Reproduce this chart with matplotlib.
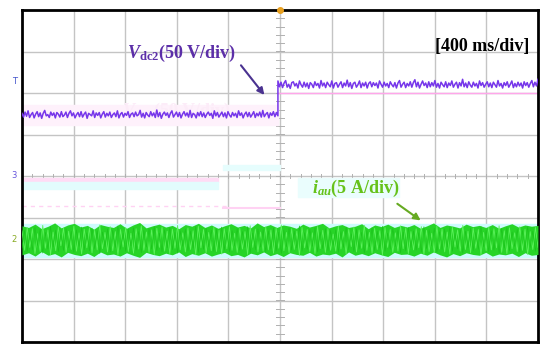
import matplotlib.pyplot as plt
import numpy as np

plt.rcParams['mathtext.fontset'] = 'custom'
plt.rcParams['mathtext.it'] = 'Liberation Serif:italic:bold'
plt.rcParams['mathtext.rm'] = 'Liberation Serif:bold'
plt.rcParams['mathtext.bf'] = 'Liberation Serif:bold'

# poziomy sygnalow (w dzialkach)
vdc2_przed = 1.47
vdc2_po = 2.19
t_skok = 4.96
iau_srodek = -1.54

szum_vdc2_a = [4, -5, 7, -3, 10, -6, 1, 6, -7, 2, 8, -4, 5, -8, 4, 11, -2, 1, -6, 7,
               -1, 5, -7, 6, 2, -5, 8, -4, 0, 7, -6, 4, 10, -2, 5, -7, 1, 6, -4, 8,
               -5, 2, 7, -8, 4, 1, -2, 10, -6, 5, -1, 6, -7, 2, 8, -5, 4, -2, 7, -6,
               1, 5, -4, 10, -7, 2, 6, -5, 4, -1, 8, -6, 2, 5, -4, 7, -2, 1, 11, -5,
               4, -7, 6, 0, -4, 8, -2, 5, -6, 12, -4, 6, -8, 2, 7, -1, 5, -6, 4, 10,
               -5, 1, 7, -4, 6, -7, 2, 8, -2, 5, -5, 11, -6, 4, 1, -7, 6, -2, 8, -4,
               5, -6, 2, 7, -1, 4, -8, 10, -2, 6, -5, 1, 7, -4, 5, -7, 8, 0, -5, 6,
               -2, 4, -6, 10, -1, 5, -7, 2, 7, -4, 6, -5, 1, 8, -6, 4, -2, 7, -5, 11,
               -4, 2, 6, -7, 5, -1, 8, -4, 6, -2]
szum_vdc2_b = [10, -4, 7, -6, 5, 11, -5, 2, -8, 6, 8, -2, 4, -7, 10, 1, -5, 7, -4, 5,
               -8, 6, 2, -6, 8, -1, 4, -7, 11, -2, 5, -6, 7, 1, -4, 10, -7, 4, 6, -5,
               2, 8, -6, 5, -2, 12, -4, 6, -8, 4, 7, -5, 1, 10, -6, 5, -2, 7, -7, 4,
               8, -4, 6, -1, 5, -7, 10, 2, -5, 7, -2, 4, -6, 8, 1, -4, 6, -7, 5, 11,
               -5, 2, 7, -6, 4, -2, 8, -5, 6, 13, -4, 7, -7, 2, 10, -1, 5, -6, 8, -4,
               6, -2, 11, -5, 4, -7, 7, 1, -4, 8, -6, 5, -1, 10, -5, 2, 7, -7, 6, -2,
               14, -4, 5, -6, 8, 0, -5, 7, -2, 4, -7, 10, -1, 6, -5, 2, 8, -4, 5, -6,
               7, 1, -5, 11, -2, 4, -7, 6, -1, 8, -5, 2, 10, -6, 4, -4, 7, -2, 5, -7,
               8, -1, 6, -5, 4, 11, -4, 7, -2, 14]
iau_gora = [34, 30, 38, 27, 33, 41, 29, 36, 40, 31, 35, 26, 37, 33, 30, 39, 28, 36, 42, 29,
            34, 38, 31, 35, 27, 37, 33, 40, 30, 36, 28, 34, 39, 31, 35, 29, 41, 32, 37, 30,
            36, 33, 28, 38, 31, 35, 40, 29, 34, 37, 30, 33, 39, 27, 36, 32, 38, 30, 35, 31,
            37, 28, 34, 41, 30, 36, 33, 29, 38, 32, 35, 30, 37, 28, 34, 39, 31, 36, 33, 35]
iau_dol = [-36, -31, -39, -28, -37, -33, -41, -30, -35, -38, -32, -40, -29, -36, -34, -39, -31, -37, -42, -30,
           -35, -38, -32, -36, -29, -40, -33, -37, -31, -39, -34, -30, -38, -35, -41, -32, -36, -29, -38, -33,
           -40, -31, -35, -37, -30, -39, -34, -36, -32, -41, -29, -37, -33, -38, -31, -36, -40, -30, -35, -34,
           -39, -32, -37, -29, -36, -41, -33, -38, -31, -35, -37, -30, -39, -34, -36, -32, -40, -31, -37, -35]
szum_iau = [22, -25, 30, -18, 27, -33, 15, -28, 35, -20, 24, -36, 19, -26, 31, -14, 28, -30, 21, -23,
            33, -27, 17, -34, 26, -19, 29, -31, 23, -24, 36, -21, 18, -29, 32, -26, 20, -37, 25, -17,
            30, -28, 16, -32, 27, -22, 34, -25, 19, -30, 24, -35, 28, -18, 31, -27, 21, -33, 26, -20,
            35, -24, 17, -29, 29, -23, 22, -36, 33, -19, 25, -31, 18, -26, 30, -28, 23, -34, 27, -21,
            32, -25, 16, -30, 28, -22, 20, -35, 34, -18, 26, -29, 19, -27, 31, -24, 24, -32, 29, -20,
            36, -26, 18, -31, 27, -23, 21, -37, 30, -19, 25, -28, 17, -33, 32, -21, 23, -30, 28, -25,
            14, -27, 33, -22, 20, -34, 26, -16, 31, -29, 24, -20, 35, -25, 18, -32, 28, -23, 22, -36,
            30, -18, 25, -30, 17, -27, 34, -21, 29, -33, 20, -24, 27, -19, 32, -35, 23, -28, 16, -31,
            33, -22, 26, -29, 19, -34, 30, -17, 24, -27, 35, -23, 21, -31, 28, -20, 25, -36, 18, -26,
            31, -24, 27, -19, 34, -30, 22, -33, 29, -21, 17, -28, 32, -25, 26, -35, 20, -23, 30, -18]

fig = plt.figure(figsize=(5.5, 3.53), dpi=100)
ax = fig.add_axes([22/550, 11/353, 516/550, 332/353])
ax.set_xlim(0, 10)
ax.set_ylim(-4, 4)
ax.set_xticks([])
ax.set_yticks([])
for s in ax.spines.values():
    s.set_linewidth(2)
    s.set_color('black')

# siatka
for xv in range(1, 10):
    ax.axvline(xv, color='#c4c4c4', lw=1, zorder=0)
for yv in range(-3, 4):
    ax.axhline(yv, color='#c4c4c4', lw=1, zorder=0)
for xv in np.arange(0.2, 10, 0.2):
    ax.plot([xv, xv], [-0.06, 0.06], color='#b0b0b0', lw=0.7, zorder=0)
for yv in np.arange(-3.8, 4, 0.2):
    ax.plot([4.93, 5.07], [yv, yv], color='#b0b0b0', lw=0.7, zorder=0)

# slady duchy (rozowe / cyjan)
ax.fill_between([0, t_skok], 1.23, 1.71, color='#fef1fb', zorder=1)
ax.plot([t_skok, 10], [1.99, 1.99], color='#ffa6ea', lw=1, zorder=1)
ax.fill_between([0, 3.8], -0.04, -0.14, color='#ffdcf5', zorder=1)
ax.fill_between([0, 3.8], -0.14, -0.32, color='#e2fcfd', zorder=1)
ax.plot([0, 4.0], [-0.72, -0.72], color='#ffd2f3', lw=1, ls=(0, (3, 3)), zorder=1)
ax.fill_between([3.9, 5.0], 0.15, 0.27, color='#e6fdfd', zorder=1)
ax.plot([3.9, 5.0], [-0.78, -0.78], color='#ffd2f3', lw=1.5, zorder=1)
ax.text(3.0, 1.55, r'$V_{\mathrm{dc2}}$(50 V/div)', color='#fcecf8', fontsize=13,
        fontfamily='Liberation Serif', fontweight='bold', ha='center', va='center', zorder=1)
ax.fill_between([5.35, 7.3], -0.05, -0.5, color='#eafdfd', zorder=1)

# V_dc2
xa = np.linspace(0, t_skok, len(szum_vdc2_a))
xb = np.linspace(t_skok, 10, len(szum_vdc2_b))
ya = vdc2_przed + np.array(szum_vdc2_a) / 100
yb = vdc2_po + np.array(szum_vdc2_b) / 100
ax.plot(np.concatenate([xa, xb]), np.concatenate([ya, yb]),
        color='#7636ea', lw=1.1, zorder=3)

# i_au
ax.fill_between([0, 10], iau_srodek - 0.42, iau_srodek + 0.38, color='#ccfbfc', zorder=2)
xg = np.linspace(0, 10, len(iau_gora))
ax.fill_between(xg, iau_srodek + np.array(iau_dol) / 100, iau_srodek + np.array(iau_gora) / 100,
                color='#27d427', lw=0, zorder=3)
xz = np.linspace(0, 10, len(szum_iau))
ax.plot(xz, iau_srodek + np.array(szum_iau) / 100, color='#5cf25c', lw=0.6, zorder=4)
ax.plot(xz, iau_srodek - np.array(szum_iau) / 110, color='#1cc41c', lw=0.5, zorder=4)

# opisy
ax.text(2.03, 2.96, r'$V_{\mathrm{dc2}}$(50 V/div)', color='#5c2fa8', fontsize=13,
        fontfamily='Liberation Serif', fontweight='bold', ha='left', va='center', zorder=5)
ax.annotate('', xy=(4.73, 1.90), xytext=(4.21, 2.72),
            arrowprops=dict(arrowstyle='-|>', color='#4a3290', lw=1.5, mutation_scale=10), zorder=5)
ax.text(9.83, 3.11, '[400 ms/div]', color='black', fontsize=13,
        fontfamily='Liberation Serif', fontweight='bold', ha='right', va='center', zorder=5)
ax.text(5.62, -0.29, r'$i_{au}$(5 A/div)', color='#66c21a', fontsize=13,
        fontfamily='Liberation Serif', fontweight='bold', ha='left', va='center', zorder=5)
ax.annotate('', xy=(7.77, -1.11), xytext=(7.23, -0.63),
            arrowprops=dict(arrowstyle='-|>', color='#66aa22', lw=1.5, mutation_scale=10), zorder=5)

# znaczniki kanalow
ax.text(-0.1, 2.27, 'T', color='#4455cc', fontsize=6, ha='right', va='center', clip_on=False)
ax.text(-0.1, 0.0, '3', color='#6655dd', fontsize=6, ha='right', va='center', clip_on=False)
ax.text(-0.1, -1.54, '2', color='#88aa22', fontsize=6, ha='right', va='center', clip_on=False)
ax.plot([5.0], [4.0], marker='o', color='#e8a020', ms=4, clip_on=False, zorder=6)

plt.savefig('out.png', dpi=100)
